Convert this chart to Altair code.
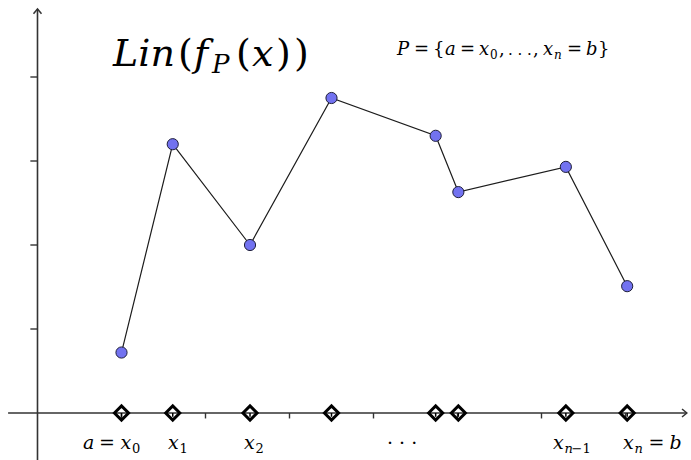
import altair as alt
import pandas as pd

# Partition nodes x_0 .. x_n and the sampled values f(x_i)
nodes_x = [1.0, 1.61, 2.53, 3.5, 4.74, 5.01, 6.29, 7.02]
nodes_y = [0.72, 3.2, 2.0, 3.75, 3.3, 2.63, 2.93, 1.51]

# Unit tick marks on both axes
x_ticks = [1, 2, 3, 4, 5, 6, 7]
y_ticks = [1, 2, 3, 4]

# Visible window in axis units
X_DOMAIN = [-0.4464, 7.7798]
Y_DOMAIN = [-0.5595, 4.9167]

# Formula pieces: (text, x, baseline y, font size, italic)
title_parts = [
    ("Lin", 0.899, 4.131, 38, True),
    ("(", 1.673, 4.131, 38, False),
    ("f", 1.863, 4.131, 38, True),
    ("P", 2.077, 4.048, 26, True),
    ("(", 2.363, 4.131, 38, False),
    ("x", 2.554, 4.131, 38, True),
    (")", 2.839, 4.131, 38, False),
    (")", 3.054, 4.131, 38, False),
]
partition_parts = [
    ("P", 4.280, 4.262, 18, True),
    ("=", 4.482, 4.262, 18, False),
    ("{", 4.708, 4.262, 18, False),
    ("a", 4.851, 4.262, 18, True),
    ("=", 5.030, 4.262, 18, False),
    ("x", 5.256, 4.262, 18, True),
    ("0", 5.387, 4.214, 12, False),
    (",", 5.494, 4.262, 18, False),
    (". . .", 5.601, 4.262, 15, False),
    (",", 5.899, 4.262, 18, False),
    ("x", 6.018, 4.262, 18, True),
    ("n", 6.149, 4.214, 12, True),
    ("=", 6.304, 4.262, 18, False),
    ("b", 6.530, 4.262, 18, True),
    ("}", 6.673, 4.262, 18, False),
]
node_label_parts = [
    ("a", 0.542, -0.429, 19, True),
    ("=", 0.732, -0.429, 19, False),
    ("x", 0.988, -0.429, 19, True),
    ("0", 1.125, -0.476, 13, False),
    ("x", 1.554, -0.429, 19, True),
    ("1", 1.691, -0.476, 13, False),
    ("x", 2.458, -0.429, 19, True),
    ("2", 2.595, -0.476, 13, False),
    ("· · ·", 4.161, -0.429, 19, False),
    ("x", 6.137, -0.429, 19, True),
    ("n", 6.274, -0.476, 13, True),
    ("−1", 6.357, -0.476, 13, False),
    ("x", 6.970, -0.429, 19, True),
    ("n", 7.107, -0.476, 13, True),
    ("=", 7.274, -0.429, 19, False),
    ("b", 7.525, -0.429, 19, True),
]

xs = alt.Scale(domain=X_DOMAIN, nice=False, zero=False)
ys = alt.Scale(domain=Y_DOMAIN, nice=False, zero=False)
AXIS = "#333333"
FONT = "DejaVu Serif"


def X(field="x"):
    return alt.X(f"{field}:Q", scale=xs, axis=None)


def Y(field="y"):
    return alt.Y(f"{field}:Q", scale=ys, axis=None)


nodes = pd.DataFrame({"x": nodes_x, "y": nodes_y, "i": range(len(nodes_x))})

# Coordinate axes
axes_df = pd.DataFrame(
    {"x": [-0.35, 0.0], "x2": [7.73, 0.0], "y": [0.0, -0.56], "y2": [0.0, 4.81]}
)
axes = alt.Chart(axes_df).mark_rule(color=AXIS, strokeWidth=1.6).encode(
    x=X(), x2="x2:Q", y=Y(), y2="y2:Q"
)

arrow_df = pd.DataFrame({"x": [0.0, 7.73], "y": [4.81, 0.0], "angle": [0, 90]})
arrows = alt.Chart(arrow_df).mark_point(
    shape="M-1,1.2L0,0L1,1.2", filled=False, size=64, strokeWidth=1.5, color=AXIS, opacity=1
).encode(x=X(), y=Y(), angle=alt.Angle("angle:Q", scale=None))

xt_df = pd.DataFrame({"x": x_ticks, "y": 0.0, "y2": -0.065})
xtick_marks = alt.Chart(xt_df).mark_rule(color=AXIS, strokeWidth=1.4).encode(
    x=X(), y=Y(), y2="y2:Q"
)
yt_df = pd.DataFrame({"y": y_ticks, "x": -0.085, "x2": 0.0})
ytick_marks = alt.Chart(yt_df).mark_rule(color=AXIS, strokeWidth=1.4).encode(
    x=X(), x2="x2:Q", y=Y()
)

# Partition points on the x-axis
diamonds = alt.Chart(nodes).mark_point(
    shape="diamond", filled=False, size=200, strokeWidth=3, color="black", opacity=1
).encode(x=X(), y=alt.Y("zero:Q", scale=ys, axis=None)).transform_calculate(zero="0")
diamond_ticks = alt.Chart(nodes).mark_rule(color="black", strokeWidth=1.5).encode(
    x=X(), y=alt.Y("zero:Q", scale=ys, axis=None), y2="low:Q"
).transform_calculate(zero="0", low="-0.045")

# Piecewise linear interpolant
poly = alt.Chart(nodes).mark_line(color="#1c1c1c", strokeWidth=1.2).encode(
    x=X(), y=Y(), order="i:Q"
)
dots = alt.Chart(nodes).mark_circle(
    size=125, color="#7272f0", stroke="#1f1f3a", strokeWidth=1, opacity=1
).encode(x=X(), y=Y())


def text_layer(parts):
    df = pd.DataFrame(parts, columns=["t", "x", "y", "size", "italic"])
    layers = []
    for (size, italic), g in df.groupby(["size", "italic"]):
        layers.append(
            alt.Chart(g).mark_text(
                font=FONT,
                fontSize=int(size),
                fontStyle="italic" if italic else "normal",
                align="left",
                baseline="alphabetic",
                color="black",
            ).encode(x=X(), y=Y(), text="t:N")
        )
    return layers


texts = text_layer(title_parts) + text_layer(partition_parts) + text_layer(node_label_parts)

chart = alt.layer(
    axes, arrows, xtick_marks, ytick_marks, diamond_ticks, diamonds, poly, dots, *texts
).properties(
    width=691, height=460, padding=0, autosize=alt.AutoSizeParams(type="none"), background="white"
).configure_view(stroke=None)

chart.save("out.html", embed_options={"renderer": "svg", "actions": False})
